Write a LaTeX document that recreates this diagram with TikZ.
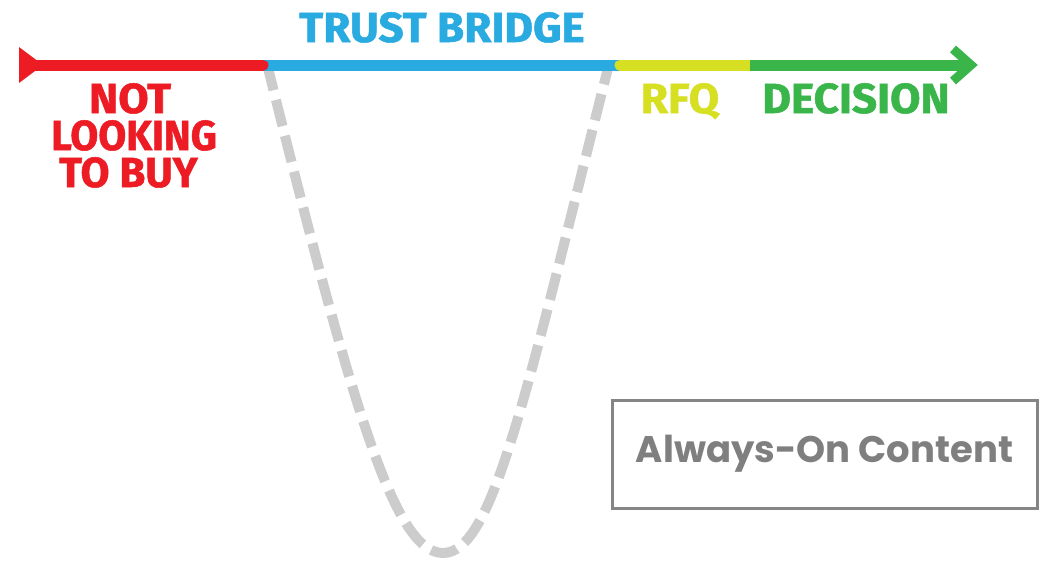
\documentclass[tikz,border=0pt]{standalone}
\usepackage{fontspec}
\setmainfont{Fira Sans}[BoldFeatures={FakeBold=1.2}]
\newfontfamily\popfont{Poppins}
\definecolor{stRed}{HTML}{ED1C24}
\definecolor{stBlue}{HTML}{29ABE2}
\definecolor{stYellow}{HTML}{D7DF23}
\definecolor{stGreen}{HTML}{39B54A}
\definecolor{dashGray}{HTML}{CCCCCC}
\definecolor{boxGray}{HTML}{858585}
\definecolor{txtGray}{HTML}{7F7F7F}
% horizontally stretched lettering for the stage labels
\newcommand\widelbl[2][1.05]{\scalebox{#1}[1]{#2}}
\begin{document}
\begin{tikzpicture}[x=1pt,y=-1pt,
  seg/.style={line width=11pt},
  lbl/.style={font=\bfseries\fontsize{42}{37}\selectfont, inner sep=0pt,
              text height=29pt, text depth=0pt, anchor=base},
  bridge/.style={dashGray, line width=10pt, dash pattern=on 27pt off 10pt},
]
\useasboundingbox[fill=white] (0,0) rectangle (1043,560);

% timeline stops
\coordinate (tail) at (32,65);
\coordinate (redEnd) at (263,65);
\coordinate (yelStart) at (620,65);
\coordinate (greenStart) at (750,65);
\coordinate (headBase) at (970,65);
\coordinate (dipLeft) at (267,64);
\coordinate (dipBottom) at (443,553);
\coordinate (dipRight) at (609,64);

% the dip under the trust bridge
\draw[bridge] (dipLeft) .. controls (350,398) and (393,553) .. (dipBottom)
                        .. controls (493,553) and (525,398) .. (dipRight);

% timeline
\draw[seg, stBlue] (redEnd) -- (yelStart);
\draw[seg, stRed, line cap=round] (tail) -- (redEnd);
\fill[stRed] (19,47) -- (43,65) -- (19,83) -- cycle;
\draw[seg, stYellow, line cap=round] (yelStart) -- (greenStart);
\draw[seg, stGreen] (greenStart) -- (headBase);
\draw[stGreen, line width=9pt, miter limit=10] (953,49) -- (971,65) -- (953,81);

% stage labels
\node[lbl, stBlue] (trust) at (442,42) {\widelbl{TRUST BRIDGE}};
\node[lbl, stRed] (notbuyA) at (130,113) {\widelbl{NOT}};
\node[lbl, stRed] (notbuyB) at (134,150) {\widelbl[0.965]{LOOKING}};
\node[lbl, stRed] (notbuyC) at (128.5,187) {\widelbl[1.0]{TO BUY}};
\node[lbl, stYellow] (rfq) at (680,113) {\widelbl{RFQ}};
\node[lbl, stGreen] (decision) at (856,113) {\widelbl{DECISION}};

% content box
\node[draw=boxGray, line width=3pt, minimum width=425pt, minimum height=108pt,
      inner sep=0pt, text=txtGray,
      font=\popfont\bfseries\fontsize{37}{40}\selectfont] (content) at (824.5,454) {Always-On Content};
\end{tikzpicture}
\end{document}
